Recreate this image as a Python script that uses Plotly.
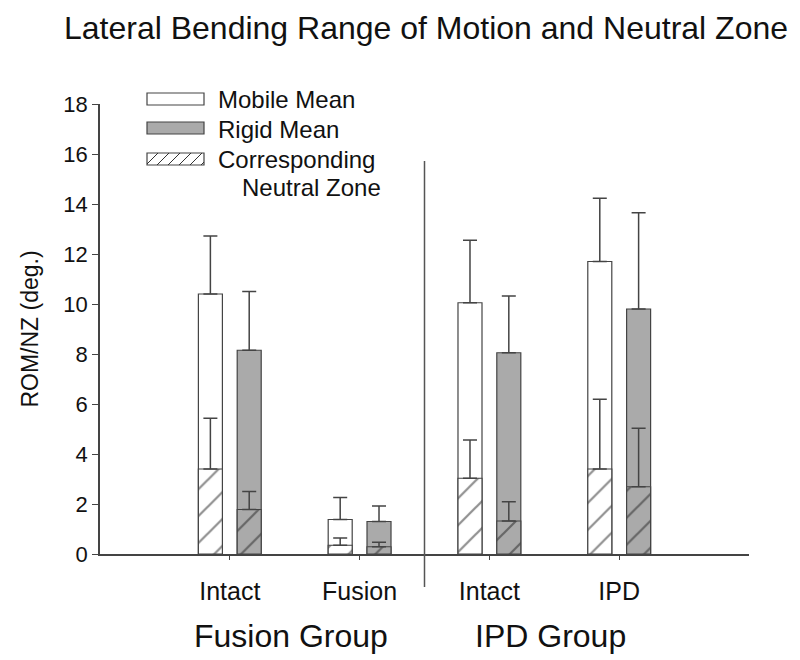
import plotly.graph_objects as go

# ---------------- data ----------------
conditions = ["Intact", "Fusion", "Intact", "IPD"]
cond_pos = [1, 2, 3, 4]
groups = ["Fusion Group", "IPD Group"]
group_pos = [1.47, 3.47]

mobile_rom = [10.40, 1.38, 10.05, 11.70]
mobile_rom_sd = [2.32, 0.88, 2.50, 2.53]
rigid_rom = [8.15, 1.30, 8.05, 9.80]
rigid_rom_sd = [2.35, 0.62, 2.27, 3.85]
mobile_nz = [3.40, 0.35, 3.03, 3.40]
mobile_nz_sd = [2.03, 0.29, 1.53, 2.79]
rigid_nz = [1.78, 0.29, 1.32, 2.69]
rigid_nz_sd = [0.72, 0.18, 0.77, 2.34]

legend_labels = ["Mobile Mean", "Rigid Mean", "Corresponding", "Neutral Zone"]

# ---------------- style ----------------
FONT = "Arial, Liberation Sans, sans-serif"
TXT = "#111111"
EDGE = "#444444"
GREY = "#aaaaaa"
W, H = 800, 660
L, R, T, B = 100, 51, 104, 106
BAR_W = 0.185
OFF_M, OFF_R = -0.242, 0.057
X_RANGE = [0, 5]
Y_RANGE = [0, 18]

def px(x):
    return (x - L) / (W - L - R)

def py(y):
    return (H - B - y) / (H - T - B)

err = dict(type="data", symmetric=False, color=EDGE, thickness=1.5, width=7)

def bar(vals, sd, offset, fill, pattern=None):
    marker = dict(color=fill, line=dict(color=EDGE, width=1.2))
    if pattern:
        marker["pattern"] = dict(shape="/", fgcolor="#222222", bgcolor=fill, size=19, solidity=0.12)
    return go.Bar(
        x=cond_pos, y=vals, width=BAR_W, offset=offset, marker=marker,
        error_y=dict(err, array=sd, arrayminus=[0] * len(sd)),
        showlegend=False, hoverinfo="y",
    )

fig = go.Figure()
fig.add_trace(bar(mobile_rom, mobile_rom_sd, OFF_M, "white"))
fig.add_trace(bar(rigid_rom, rigid_rom_sd, OFF_R, GREY))
fig.add_trace(bar(mobile_nz, mobile_nz_sd, OFF_M, "white", pattern=True))
fig.add_trace(bar(rigid_nz, rigid_nz_sd, OFF_R, GREY, pattern=True))

# divider between the two groups (at x = 2.5)
xdiv = (2.5 - X_RANGE[0]) / (X_RANGE[1] - X_RANGE[0])
fig.add_shape(type="line", xref="paper", yref="paper", x0=xdiv, x1=xdiv,
              y0=py(161), y1=py(587), line=dict(color="#555555", width=1.5))

# group labels
for g, gx in zip(groups, group_pos):
    fig.add_annotation(x=gx, xref="x", y=py(636), yref="paper", text=g,
                       showarrow=False, font=dict(size=32, color=TXT, family=FONT),
                       xanchor="center", yanchor="middle")

# custom legend (wide swatches)
sw_x0, sw_x1 = 147, 204
rows = [(93, 105), (122, 134), (153, 165)]
fills = ["white", GREY, "white"]
for (y0, y1), f in zip(rows, fills):
    fig.add_shape(type="rect", xref="paper", yref="paper",
                  x0=px(sw_x0), x1=px(sw_x1), y0=py(y1), y1=py(y0),
                  fillcolor=f, line=dict(color=EDGE, width=1.2))
# hatch lines in third swatch
y0, y1 = rows[2]
hh = y1 - y0
path = ""
xs = sw_x0 - hh
step = 11
while xs < sw_x1:
    ax, ay = xs, y1
    bx, by = xs + hh, y0
    if ax < sw_x0:
        ay = y1 - (sw_x0 - ax); ax = sw_x0
    if bx > sw_x1:
        by = y0 + (bx - sw_x1); bx = sw_x1
    if bx > ax:
        path += f"M{px(ax)},{py(ay)} L{px(bx)},{py(by)} "
    xs += step
fig.add_shape(type="path", xref="paper", yref="paper", path=path,
              line=dict(color="#333333", width=1))

leg_pos = [(216, 100), (216, 129), (216, 159), (240, 187)]
for lab, (lx, ly) in zip(legend_labels, leg_pos):
    fig.add_annotation(x=px(lx), xref="paper", y=py(ly), yref="paper", text=lab,
                       showarrow=False, xanchor="left", yanchor="middle",
                       font=dict(size=24, color=TXT, family=FONT))

fig.update_layout(
    width=W, height=H,
    margin=dict(l=L, r=R, t=T, b=B),
    paper_bgcolor="white", plot_bgcolor="white",
    barmode="overlay",
    font=dict(family=FONT, color=TXT),
    title=dict(text="Lateral Bending Range of Motion and Neutral Zone",
               x=426 / W, xref="container", xanchor="center",
               y=1 - 28 / H, yref="container", yanchor="middle",
               font=dict(size=32, color=TXT, family=FONT)),
    xaxis=dict(range=X_RANGE, tickmode="array", tickvals=cond_pos, ticktext=conditions,
               showline=True, linecolor=EDGE, linewidth=1.5, ticks="outside",
               ticklen=4, tickcolor=EDGE, showgrid=False, zeroline=False,
               tickfont=dict(size=25, color=TXT), ticklabelstandoff=10),
    yaxis=dict(range=Y_RANGE, dtick=2, showline=True, linecolor=EDGE, linewidth=1.5,
               ticks="outside", ticklen=6, tickcolor=EDGE, showgrid=False,
               zeroline=False, tickfont=dict(size=22, color=TXT),
               title=dict(text="ROM/NZ (deg.)", font=dict(size=23, color=TXT), standoff=18)),
)

fig.write_html("out.html", config={"displayModeBar": False},
               post_script="document.body.style.margin='0';")
